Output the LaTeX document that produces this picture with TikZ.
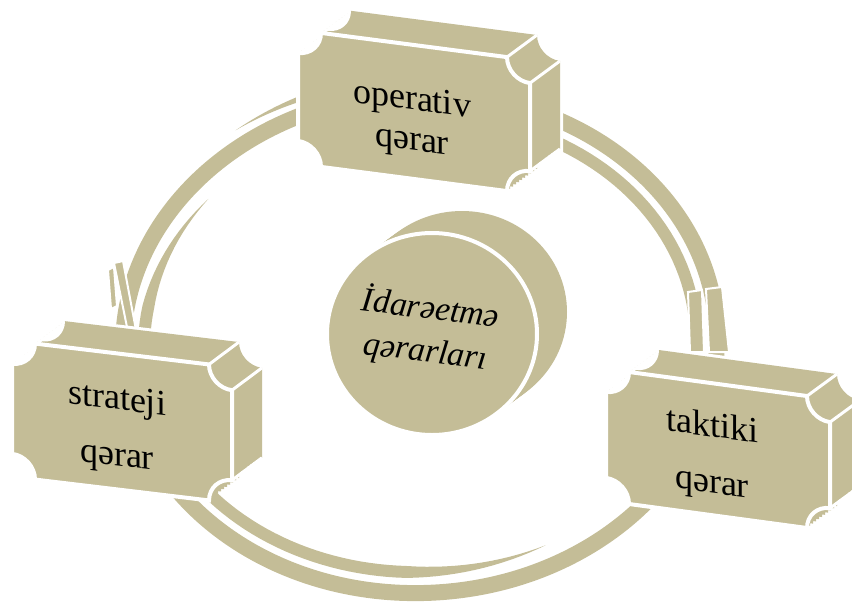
\documentclass[tikz,border=0pt]{standalone}
\usepackage{fontspec}
\setmainfont{Liberation Serif}
\usetikzlibrary{positioning}
\definecolor{platecolor}{RGB}{196,189,151}

% notched plate, centred on the origin: half width #1, half height #2, notch #3
\newcommand{\plateoutline}[3]{
  (-#1+#3,-#2) -- (#1-#3,-#2) arc[start angle=180, end angle=90, radius=#3]
  -- (#1,#2-#3) arc[start angle=270, end angle=180, radius=#3]
  -- (-#1+#3,#2) arc[start angle=0, end angle=-90, radius=#3]
  -- (-#1,-#2+#3) arc[start angle=90, end angle=0, radius=#3] -- cycle}
% the hidden notch at the top left, cut back to white
\newcommand{\platenotch}[3]{
  (-#1,-#2+#3) -- ++(30,-26) arc[start angle=90, end angle=0, radius=#3]
  -- (-#1+#3,-#2) arc[start angle=0, end angle=90, radius=#3] -- cycle}

\begin{document}
\begin{tikzpicture}[
    x=1pt, y=-1pt,
    plateface/.style={fill=platecolor, draw=white, line width=4pt},
    platehalo/.style={draw=white, line width=6pt},
    plateedge/.style={draw=white, line width=3pt},
    platetext/.style={align=center, transform shape, font=\fontsize{36}{56}\selectfont},
    ringband/.style={draw=platecolor, line width=16pt},
    innerband/.style={draw=platecolor, line width=12pt},
    arrowcap/.style={fill=platecolor, draw=white, line width=2pt}
]
    \useasboundingbox (0,0) rectangle (852,603);

    % Ring
    \begin{scope}[rotate around={2.5:(420,343)}]
        \draw[ringband] (420,343) ellipse [x radius=297, y radius=250];
        \draw[innerband] plot[domain=-95:30, samples=60]
            ({420+276*cos(\x)}, {343+229*sin(\x)});
        \fill[platecolor] plot[domain=65:222, samples=80]
            ({420+(276+6*min(1,(\x-65)/30,(222-\x)/30))*cos(\x)}, {343+(229+6*min(1,(\x-65)/30,(222-\x)/30))*sin(\x)})
            -- plot[domain=222:65, samples=80]
            ({420+(276-6*min(1,(\x-65)/30,(222-\x)/30))*cos(\x)}, {343+(229-6*min(1,(\x-65)/30,(222-\x)/30))*sin(\x)})
            -- cycle;
        \fill[platecolor] plot[domain=236:285, samples=40]
            ({420+(313+4*min(1,(\x-236)/20))*cos(\x)}, {343+(266+4*min(1,(\x-236)/20))*sin(\x)})
            -- plot[domain=285:236, samples=40]
            ({420+(313-4*min(1,(\x-236)/20))*cos(\x)}, {343+(266-4*min(1,(\x-236)/20))*sin(\x)})
            -- cycle;
    \end{scope}

    % Arrow heads
    \filldraw[arrowcap] (108,270) -- (114,267) -- (117,306) -- (111,309) -- cycle;
    \filldraw[arrowcap] (114,263) -- (123,261) -- (136,330) -- (128,332) -- cycle;
    \filldraw[arrowcap] (688,292) -- (702,290) -- (704,352) -- (690,352) -- cycle;
    \filldraw[arrowcap] (706,289) -- (722,287) -- (729,352) -- (709,352) -- cycle;

    % Operativ
    \begin{scope}[shift={(414,112)}, yslant=-0.13]
        \draw[platehalo, shift={(30,-26)}] \plateoutline{116}{67}{23};
        \foreach \k in {0,...,10}
            \fill[platecolor, shift={(3*\k,-2.6*\k)}] \plateoutline{116}{67}{23};
        \fill[white] \platenotch{116}{67}{23};
        \filldraw[plateface] \plateoutline{116}{67}{23};
        \draw[plateedge] (93,-67) -- ++(30,-26) (116,-44) -- ++(30,-26) (116,44) -- ++(30,-26);
        \node[platetext, font=\fontsize{36}{40}\selectfont] (op) at (-2,10) {operativ\\qərar};
    \end{scope}

    % Strateji
    \begin{scope}[shift={(122,422)}, yslant=-0.12]
        \draw[platehalo, shift={(30,-26)}] \plateoutline{110}{68}{23};
        \foreach \k in {0,...,10}
            \fill[platecolor, shift={(3*\k,-2.6*\k)}] \plateoutline{110}{68}{23};
        \fill[white] \platenotch{110}{68}{23};
        \filldraw[plateface] \plateoutline{110}{68}{23};
        \draw[plateedge] (87,-68) -- ++(30,-26) (110,-45) -- ++(30,-26) (110,45) -- ++(30,-26);
        \node[platetext] (st) at (-5,8) {strateji\\qərar};
    \end{scope}

    % Taktiki
    \begin{scope}[shift={(718,450)}, yslant=-0.135]
        \draw[platehalo, shift={(30,-26)}] \plateoutline{112}{66}{23};
        \foreach \k in {0,...,10}
            \fill[platecolor, shift={(3*\k,-2.6*\k)}] \plateoutline{112}{66}{23};
        \fill[white] \platenotch{112}{66}{23};
        \filldraw[plateface] \plateoutline{112}{66}{23};
        \draw[plateedge] (89,-66) -- ++(30,-26) (112,-43) -- ++(30,-26) (112,43) -- ++(30,-26);
        \node[platetext] (tk) at (-6,7) {taktiki\\qərar};
    \end{scope}

    % Centre
    \begin{scope}[shift={(432,334)}]
        \draw[platehalo] (30,-22) ellipse [x radius=105, y radius=101];
        \foreach \k in {0,...,10}
            \fill[platecolor] (3*\k,-2.2*\k) ellipse [x radius=105, y radius=101];
        \filldraw[plateface] (0,0) ellipse [x radius=105, y radius=101];
        \node[align=center, rotate=-7, font=\itshape\fontsize{34}{43}\selectfont] (idare) at (-4,-4) {İdarəetmə\\qərarları};
    \end{scope}
\end{tikzpicture}
\end{document}
